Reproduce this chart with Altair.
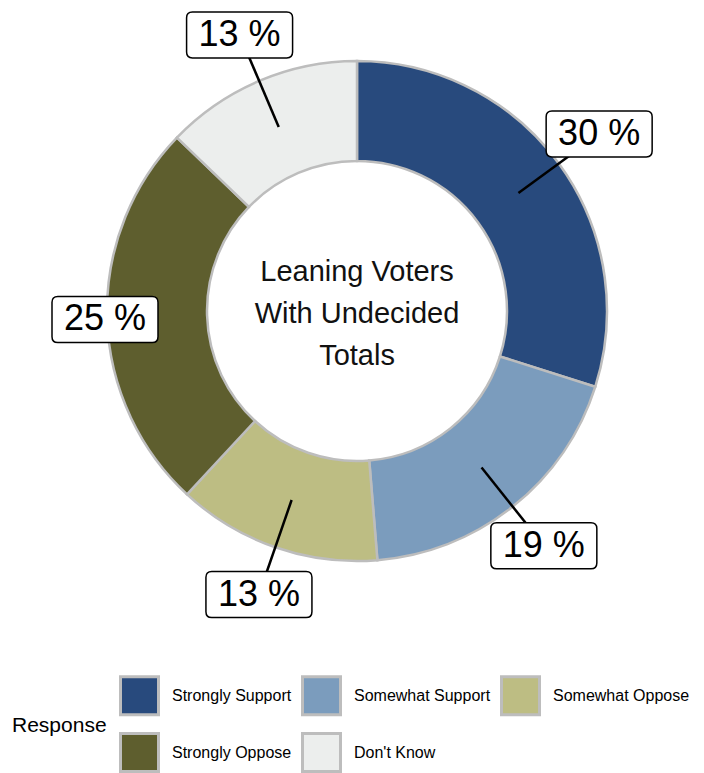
import altair as alt
import pandas as pd

responses = ["Strongly Support", "Somewhat Support", "Somewhat Oppose", "Strongly Oppose", "Don't Know"]
shares = [29.9, 18.8, 13.2, 25.3, 12.8]
colors = ["#284a7d", "#7b9cbd", "#bdbd83", "#5e5e2e", "#eceeed"]
center_lines = ["Leaning Voters", "With Undecided", "Totals"]

df = pd.DataFrame({"response": responses, "value": shares, "order": list(range(len(responses)))})

W, H = 688, 600
CX, CY = 349, 300
R_IN, R_OUT = 150, 250
R_ANCHOR, R_LABEL = 200, 300
FONT = "Liberation Sans"

base = alt.Chart(df)

arcs = base.mark_arc(innerRadius=R_IN, outerRadius=R_OUT, stroke="#bdbdbd", strokeWidth=2.5).encode(
    theta=alt.Theta("value:Q", stack=True),
    color=alt.Color(
        "response:N",
        scale=alt.Scale(domain=responses, range=colors),
        sort=responses,
        legend=alt.Legend(
            title="Response", orient="none", legendX=4, legendY=664,
            direction="horizontal", columns=3,
            symbolType="square", symbolSize=38 * 38, symbolStrokeColor="#bdbdbd",
            symbolStrokeWidth=3, symbolOpacity=1,
            labelFontSize=16, labelFont=FONT, labelColor="#000", labelLimit=0,
            titleFontSize=21, titleFont=FONT, titleFontWeight="normal", titleColor="#000",
            titleOrient="left", titleAnchor="middle", titleBaseline="middle", titlePadding=12,
            labelOffset=12, columnPadding=4, rowPadding=6, padding=0,
        ),
    ),
    order=alt.Order("order:Q"),
    x=alt.value(CX),
    y=alt.value(CY),
)

lab = base.transform_window(
    cum="sum(value)", sort=[alt.SortField("order")], frame=[None, 0]
).transform_joinaggregate(total="sum(value)").transform_calculate(
    mid="(datum.cum - datum.value/2)/datum.total*2*PI",
    ax=f"{R_ANCHOR}*sin(datum.mid)",
    ay=f"{R_ANCHOR}*cos(datum.mid)",
    lx=f"clamp({R_LABEL}*sin(datum.mid), {-(CX - 97)}, {W - CX - 60})",
    ly=f"{R_LABEL}*cos(datum.mid)",
    label="format(datum.value, '.0f') + ' %'",
)

xs = alt.Scale(domain=[-CX, W - CX], nice=False, zero=False)
ys = alt.Scale(domain=[-(H - CY), CY], nice=False, zero=False)

rules = lab.mark_rule(color="#000", strokeWidth=2.5).encode(
    x=alt.X("ax:Q", scale=xs, axis=None),
    y=alt.Y("ay:Q", scale=ys, axis=None),
    x2="lx:Q",
    y2="ly:Q",
)

box_path = ("M -0.89 -0.434 L 0.89 -0.434 Q 1 -0.434 1 -0.324 L 1 0.324 Q 1 0.434 0.89 0.434 "
            "L -0.89 0.434 Q -1 0.434 -1 0.324 L -1 -0.324 Q -1 -0.434 -0.89 -0.434 Z")

boxes = lab.mark_point(shape=box_path, size=106 * 106, filled=True, fill="white",
                       stroke="#000", strokeWidth=1.5, opacity=1).encode(
    x=alt.X("lx:Q", scale=xs, axis=None),
    y=alt.Y("ly:Q", scale=ys, axis=None),
)

texts = lab.mark_text(fontSize=36, font=FONT, color="#000", align="center", baseline="middle").encode(
    x=alt.X("lx:Q", scale=xs, axis=None),
    y=alt.Y("ly:Q", scale=ys, axis=None),
    text="label:N",
)

center = alt.Chart(pd.DataFrame({"k": [0]})).mark_text(
    text=center_lines, fontSize=29, font=FONT, color="#111", lineHeight=42,
    align="center", baseline="middle",
).encode(x=alt.value(CX), y=alt.value(CY - 39))

chart = alt.layer(arcs, rules, boxes, texts, center).properties(
    width=W, height=H, padding=0
).configure_view(stroke=None)

chart.save("out.html", embed_options={"renderer": "svg", "actions": False})
